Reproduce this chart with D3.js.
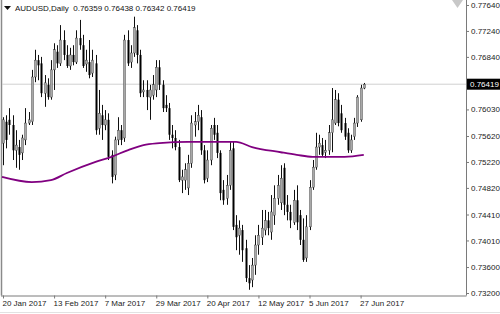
<!DOCTYPE html><html>
<head>
<meta charset="utf-8">
<title>AUDUSD Daily</title>
<style>
  body { margin: 0; background: #fff; }
  svg { display: block; font-family: "Liberation Sans", Arial, sans-serif; }
  .axis path, .axis line { stroke: #7a7a7a; }
  .axis text { fill: #222; font-size: 8px; }
</style>
</head>
<body>
<svg width="500" height="314"></svg>

<script src="https://cdn.jsdelivr.net/npm/d3@7"></script>
<script>
// daily candles, 20 Jan 2017 .. 28 Jun 2017 (one per weekday)
var open = [
  0.7551,0.7584,0.7587,0.7579,0.7540,0.7545,0.7536,0.7556,0.7582,0.7584,
  0.7653,0.7679,0.7674,0.7628,0.7641,0.7622,0.7664,0.7692,0.7674,0.7710,
  0.7687,0.7670,0.7687,0.7676,0.7713,0.7702,0.7673,0.7676,0.7659,0.7674,
  0.7574,0.7594,0.7579,0.7587,0.7533,0.7502,0.7556,0.7571,0.7559,0.7710,
  0.7676,0.7690,0.7725,0.7687,0.7630,0.7633,0.7622,0.7625,0.7633,0.7668,
  0.7641,0.7610,0.7605,0.7564,0.7559,0.7545,0.7494,0.7494,0.7482,0.7520,
  0.7579,0.7584,0.7591,0.7540,0.7497,0.7525,0.7579,0.7567,0.7536,0.7479,
  0.7466,0.7486,0.7543,0.7425,0.7409,0.7417,0.7389,0.7343,0.7340,0.7363,
  0.7394,0.7406,0.7417,0.7432,0.7414,0.7440,0.7466,0.7459,0.7513,0.7456,
  0.7445,0.7429,0.7463,0.7440,0.7402,0.7374,0.7422,0.7483,0.7514,0.7545,
  0.7548,0.7537,0.7540,0.7567,0.7582,0.7618,0.7597,0.7582,0.7567,0.7540,
  0.7561,0.7582,0.7587,0.76359
];
var high = [
  0.7591,0.7594,0.7605,0.7594,0.7571,0.7556,0.7564,0.7605,0.7599,0.7664,
  0.7695,0.7687,0.7684,0.7656,0.7651,0.7679,0.7705,0.7702,0.7733,0.7725,
  0.7702,0.7698,0.7702,0.7725,0.7741,0.7718,0.7695,0.7710,0.7695,0.7687,
  0.7633,0.7610,0.7602,0.7597,0.7540,0.7561,0.7591,0.7579,0.7718,0.7725,
  0.7702,0.7746,0.7733,0.7695,0.7648,0.7648,0.7641,0.7656,0.7679,0.7679,
  0.7648,0.7625,0.7613,0.7579,0.7571,0.7556,0.7510,0.7520,0.7533,0.7594,
  0.7599,0.7610,0.7602,0.7548,0.7540,0.7579,0.7590,0.7579,0.7540,0.7494,
  0.7502,0.7553,0.7553,0.7440,0.7432,0.7425,0.7402,0.7363,0.7374,0.7409,
  0.7425,0.7448,0.7448,0.7445,0.7471,0.7486,0.7502,0.7517,0.7520,0.7471,
  0.7456,0.7479,0.7486,0.7448,0.7435,0.7440,0.7494,0.7525,0.7567,0.7564,
  0.7559,0.7556,0.7579,0.7636,0.7633,0.7628,0.7610,0.7590,0.7574,0.7564,
  0.7590,0.7625,0.7641,0.76438
];
var low = [
  0.7517,0.7543,0.7564,0.7525,0.7513,0.7510,0.7525,0.7548,0.7579,0.7579,
  0.7645,0.7648,0.7622,0.7607,0.7618,0.7618,0.7633,0.7667,0.7670,0.7679,
  0.7667,0.7664,0.7671,0.7673,0.7695,0.7667,0.7661,0.7651,0.7653,0.7564,
  0.7564,0.7556,0.7571,0.7525,0.7489,0.7494,0.7548,0.7548,0.7553,0.7670,
  0.7667,0.7684,0.7674,0.7622,0.7622,0.7602,0.7587,0.7618,0.7622,0.7633,
  0.7599,0.7599,0.7556,0.7543,0.7540,0.7491,0.7474,0.7479,0.7471,0.7513,
  0.7561,0.7571,0.7533,0.7489,0.7491,0.7517,0.7556,0.7528,0.7463,0.7456,
  0.7456,0.7479,0.7417,0.7386,0.7379,0.7368,0.7337,0.7325,0.7329,0.7348,
  0.7379,0.7394,0.7409,0.7409,0.7402,0.7425,0.7456,0.7448,0.7440,0.7432,
  0.7420,0.7425,0.7417,0.7394,0.7368,0.7368,0.7417,0.7479,0.7510,0.7533,
  0.7530,0.7528,0.7533,0.7537,0.7579,0.7577,0.7567,0.7556,0.7536,0.7536,
  0.7556,0.7576,0.7584,0.76342
];
var close = [
  0.7587,0.7556,0.7579,0.7540,0.7548,0.7533,0.7559,0.7582,0.7587,0.7653,
  0.7679,0.7671,0.7628,0.7644,0.7622,0.7664,0.7695,0.7674,0.7710,0.7687,
  0.7670,0.7687,0.7676,0.7713,0.7702,0.7670,0.7679,0.7656,0.7679,0.7571,
  0.7597,0.7579,0.7587,0.7530,0.7499,0.7556,0.7571,0.7556,0.7710,0.7674,
  0.7690,0.7729,0.7687,0.7628,0.7633,0.7622,0.7633,0.7641,0.7668,0.7641,
  0.7605,0.7605,0.7564,0.7559,0.7545,0.7494,0.7499,0.7510,0.7520,0.7582,
  0.7584,0.7594,0.7540,0.7494,0.7525,0.7574,0.7564,0.7536,0.7474,0.7463,
  0.7486,0.7540,0.7422,0.7406,0.7420,0.7386,0.7343,0.7335,0.7363,0.7394,
  0.7409,0.7420,0.7432,0.7420,0.7445,0.7466,0.7486,0.7497,0.7456,0.7445,
  0.7432,0.7463,0.7429,0.7402,0.7371,0.7422,0.7483,0.7514,0.7545,0.7551,
  0.7533,0.7540,0.7567,0.7587,0.7618,0.7582,0.7571,0.7561,0.7540,0.7556,
  0.7582,0.7622,0.7636,0.76419
];

var maBar = [0, 9, 15, 20, 29, 34, 39, 44, 49, 58, 73, 78, 87, 92, 97, 107, 113];
var maVal = [0.7499, 0.7491, 0.7494, 0.7505, 0.7522, 0.7530, 0.7540, 0.7548,
             0.7551, 0.7553, 0.7553, 0.7545, 0.7537, 0.7533, 0.7530, 0.7530, 0.7533];

var priceTicks  = [0.7764, 0.7724, 0.7684, 0.7603, 0.7562, 0.7522, 0.7482, 0.7441, 0.7401, 0.7360, 0.7320];
var priceLabels = ['0.77640', '0.77240', '0.76840', '0.76030', '0.75620', '0.75220',
                   '0.74820', '0.74410', '0.74010', '0.73600', '0.73200'];
var dateBars   = [0, 16, 32, 48, 64, 80, 96, 112];
var dateLabels = ['20 Jan 2017', '13 Feb 2017', '7 Mar 2017', '29 Mar 2017',
                  '20 Apr 2017', '12 May 2017', '5 Jun 2017', '27 Jun 2017'];
var title = 'AUDUSD,Daily  0.76359 0.76438 0.76342 0.76419';
var last = 0.76419;

var svg = d3.select('svg');
var right = 466, bottom = 295.5;

var x = d3.scaleLinear().domain([0, 112]).range([3, 360.6]);
var y = d3.scaleLinear().domain([0.7320, 0.7764]).range([293, 5]);

// frame
svg.append('line').attr('x1', 1.5).attr('x2', 1.5).attr('y1', 0).attr('y2', bottom)
  .attr('stroke', '#8a8a8a').attr('stroke-width', 1.5);
svg.append('line').attr('x1', 0).attr('x2', 500).attr('y1', 312.5).attr('y2', 312.5)
  .attr('stroke', '#e2e2e2');

// current price line
svg.append('line').attr('x1', 2).attr('x2', right).attr('y1', y(last)).attr('y2', y(last))
  .attr('stroke', '#d0d0d0');

var bars = d3.range(open.length);

// wicks
svg.append('g').selectAll('line')
    .data(bars)
  .enter().append('line')
    .attr('x1', function(i) { return Math.round(x(i)) + 0.5; })
    .attr('x2', function(i) { return Math.round(x(i)) + 0.5; })
    .attr('y1', function(i) { return y(high[i]); })
    .attr('y2', function(i) { return y(low[i]); })
    .attr('stroke', '#111');

// bodies
svg.append('g').selectAll('rect')
    .data(bars)
  .enter().append('rect')
    .attr('x', function(i) { return Math.round(x(i)) - 0.5; })
    .attr('width', 2)
    .attr('y', function(i) { return y(Math.max(open[i], close[i])); })
    .attr('height', function(i) { return Math.max(1, Math.abs(y(open[i]) - y(close[i]))); })
    .attr('fill', function(i) { return close[i] >= open[i] ? '#a8a8a8' : '#000'; })
    .attr('stroke', function(i) { return close[i] >= open[i] ? '#333' : 'none'; })
    .attr('stroke-width', 0.4);

// moving average
svg.append('path')
  .datum(maBar)
  .attr('fill', 'none')
  .attr('stroke', '#800080')
  .attr('stroke-width', 1.8)
  .attr('d', d3.line()
    .x(function(b) { return b === 0 ? 2 : x(b); })
    .y(function(b, k) { return y(maVal[k]); })
    .curve(d3.curveMonotoneX));

// price axis
var yAxis = svg.append('g').attr('class', 'axis')
  .attr('transform', 'translate(' + right + ',0)')
  .call(d3.axisRight(y).tickValues(priceTicks).tickSize(3).tickPadding(2)
    .tickFormat(function(v, k) { return priceLabels[k]; }));
yAxis.select('.domain').attr('d', 'M0.5,0V' + bottom);

// current price tag
svg.append('rect').attr('x', right + 1).attr('y', y(last) - 5.5).attr('width', 33).attr('height', 11)
  .attr('fill', '#000');
svg.append('text').attr('x', right + 4).attr('y', y(last)).attr('dy', '0.35em')
  .attr('fill', '#fff').attr('font-size', 8).text(last.toFixed(5));

// date axis
var xAxis = svg.append('g').attr('class', 'axis')
  .attr('transform', 'translate(0,' + bottom + ')')
  .call(d3.axisBottom(x).tickValues(dateBars).tickSize(3).tickPadding(2)
    .tickFormat(function(b, k) { return dateLabels[k]; }));
xAxis.select('.domain').attr('d', 'M1,0.5H' + (right + 0.5));
xAxis.selectAll('text').attr('text-anchor', 'start').attr('dx', -1);

// title
svg.append('path').attr('d', 'M4,6H11L7.5,10Z').attr('fill', '#111');
svg.append('text').attr('x', 15).attr('y', 11).attr('font-size', 8).attr('fill', '#111')
  .style('white-space', 'pre').text(title);

// chart shift marker
svg.append('path').attr('d', 'M452,0H463L457.5,8Z').attr('fill', '#c8c8c8');
</script>
</body></html>
